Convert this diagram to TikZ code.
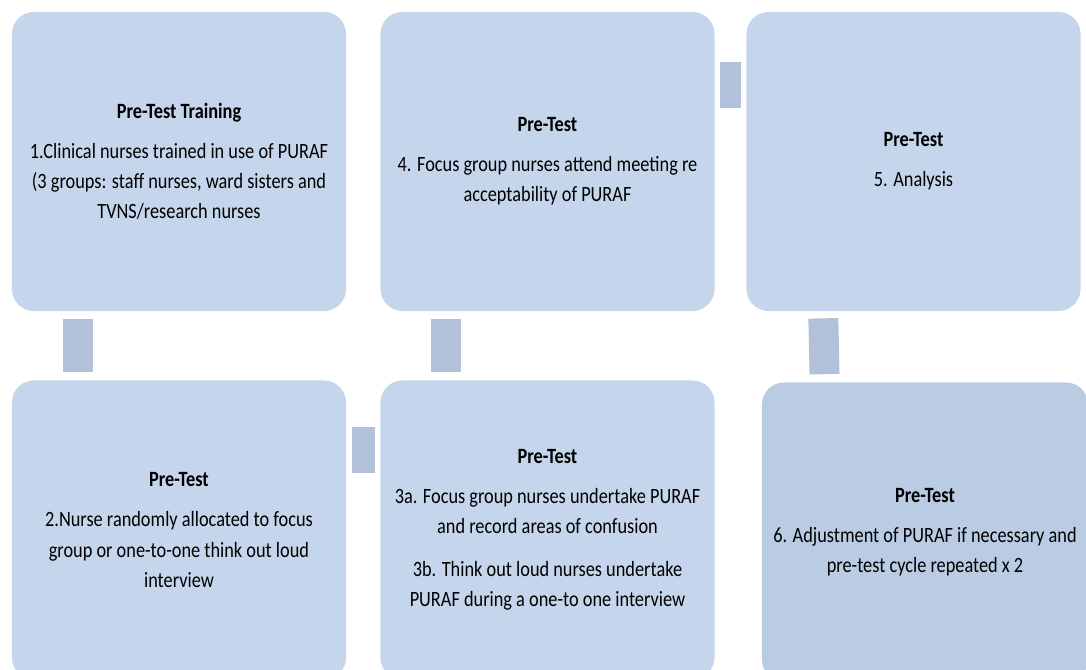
\documentclass[tikz,border=0pt]{standalone}
\usepackage{fontspec}
\setmainfont{Carlito}[FakeStretch=0.84]
\definecolor{boxfill}{HTML}{C5D6EC}
\definecolor{barfill}{HTML}{B2C1D9}
\definecolor{lastfill}{HTML}{B9CCE4}
\begin{document}
\begin{tikzpicture}[x=0.025cm, y=-0.025cm,
    stage/.style={fill=boxfill, rounded corners=0.55cm, minimum width=8.35cm,
      minimum height=7.475cm, inner sep=0pt, align=center,
      font=\fontsize{15.5}{21.5}\selectfont},
    bar/.style={draw=barfill, line width=0.75cm, shorten <=0.2cm, shorten >=0.2cm},
    sidebar/.style={draw=barfill, line width=1.15cm, shorten <=0.14cm, shorten >=0.14cm}]
  \clip (0,0) rectangle (1086,670);
  \node[stage] (train) at (179,161.5) {\textbf{Pre-Test Training}\\[7pt]
    1.Clinical nurses trained in use of PURAF\\
    (3 groups: staff nurses, ward sisters and\\
    TVNS/research nurses};
  \node[stage] (meet) at (547.5,161.5) {\textbf{Pre-Test}\\[7pt]
    4. Focus group nurses attend meeting re\\
    acceptability of PURAF};
  \node[stage] (analysis) at (913.5,161.5) {\textbf{Pre-Test}\\[7pt]
    5. Analysis};
  \node[stage] (alloc) at (179,530) {\textbf{Pre-Test}\\[7pt]
    2.Nurse randomly allocated to focus\\
    group or one-to-one think out loud\\
    interview};
  \node[stage] (undertake) at (547.5,530) {\textbf{Pre-Test}\\[7pt]
    3a. Focus group nurses undertake PURAF\\
    and record areas of confusion\\[9pt]
    3b. Think out loud nurses undertake\\
    PURAF during a one-to one interview};
  \node[stage, fill=lastfill, minimum width=8.15cm] (adjust) at (925,532) {\textbf{Pre-Test}\\[7pt]
    6. Adjustment of PURAF if necessary and\\
    pre-test cycle repeated x 2};
  % links between the stages
  \draw[bar] ([xshift=1.65cm]train.south west) -- ([xshift=1.65cm]alloc.north west);
  \draw[sidebar] ([yshift=-1.75cm]alloc.north east) -- ([yshift=-1.75cm]undertake.north west);
  \draw[bar] ([xshift=1.65cm]undertake.north west) -- ([xshift=1.65cm]meet.south west);
  \draw[sidebar] ([yshift=-1.825cm]meet.north east) -- ([yshift=-1.825cm]analysis.north west);
  \draw[bar, shorten <=0.175cm] ([xshift=1.925cm]analysis.south west) -- ([xshift=1.575cm]adjust.north west);
\end{tikzpicture}
\end{document}
